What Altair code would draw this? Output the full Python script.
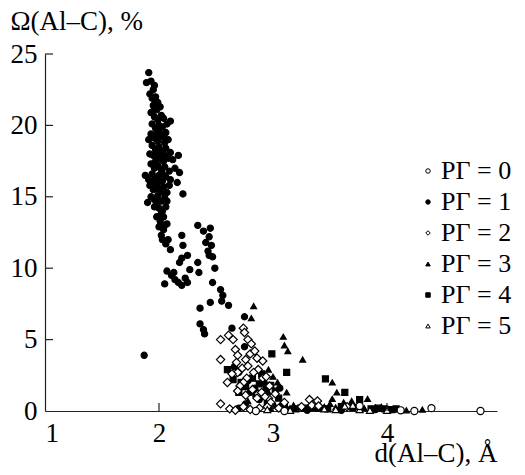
import altair as alt
import pandas as pd

labels = ["РГ = 0", "РГ = 1", "РГ = 2", "РГ = 3", "РГ = 4", "РГ = 5"]
shapes = ["circle", "circle", "diamond", "triangle-up", "square", "triangle-up"]
fills = ["white", "black", "white", "black", "black", "white"]
strokes = ["black"] * 6
sizes = [50, 38, 68, 34, 36, 48]

x_ticks = [1, 2, 3, 4]
y_ticks = [0, 5, 10, 15, 20, 25]
x_inner_ticks = [2, 3, 4]
y_inner_ticks = [5, 10, 15, 20, 25]

# (d, Omega) pairs
rg1 = [
    (1.91, 23.7), (1.89, 23.0), (1.93, 23.1), (1.96, 22.8), (1.95, 22.5), (1.92, 22.2),
    (1.94, 21.9), (1.97, 22.0), (1.99, 21.6), (1.97, 21.7), (1.95, 21.4), (1.98, 21.1),
    (2.01, 21.3), (1.95, 21.0), (1.93, 20.9), (1.96, 20.6), (1.99, 20.4), (2.02, 20.7),
    (2.04, 20.5), (2.10, 20.3), (2.07, 20.1), (2.00, 20.0), (1.94, 20.1), (1.97, 19.8),
    (2.00, 19.6), (2.03, 19.9), (2.06, 19.5), (1.98, 19.4), (2.04, 19.3), (1.93, 19.4),
    (1.91, 19.0), (1.96, 19.1), (1.99, 18.9), (2.02, 19.2), (2.05, 18.8), (2.08, 19.0),
    (1.94, 18.6), (1.97, 18.3), (2.00, 18.5), (2.03, 18.2), (2.06, 18.4), (2.10, 18.1),
    (1.99, 18.1), (1.92, 18.0), (1.95, 17.9), (1.98, 17.6), (2.01, 17.8), (2.04, 17.5),
    (2.05, 17.9), (2.08, 17.7), (2.12, 17.6), (2.17, 17.9), (1.97, 17.5), (1.93, 17.3),
    (1.96, 17.0), (1.99, 17.2), (2.02, 16.9), (2.05, 17.1), (2.09, 16.8), (2.14, 17.0),
    (2.18, 16.7), (2.03, 16.6), (1.88, 16.5), (1.91, 16.2), (1.94, 16.6), (1.97, 16.3),
    (2.00, 16.5), (2.03, 16.1), (2.06, 16.4), (2.10, 16.2), (2.16, 16.0), (1.99, 16.0),
    (1.95, 16.1), (1.92, 15.8), (1.95, 15.5), (1.98, 15.8), (2.01, 15.4), (2.04, 15.7),
    (2.07, 15.3), (2.09, 15.8), (2.00, 15.5), (2.05, 15.2), (2.21, 15.2), (1.93, 15.0),
    (1.96, 14.8), (1.99, 15.1), (2.02, 14.7), (2.05, 14.9), (2.07, 14.7), (1.90, 14.6),
    (1.98, 14.5), (1.96, 14.3), (2.00, 14.2), (2.03, 14.0), (2.06, 14.3), (2.02, 13.8),
    (1.98, 13.6), (2.01, 13.3), (2.04, 13.6), (2.07, 13.1), (2.05, 13.0), (2.00, 12.9),
    (2.04, 12.7), (2.03, 12.0), (2.08, 12.0), (2.02, 12.3), (2.06, 11.7), (2.10, 11.3),
    (2.20, 12.3), (2.21, 11.6), (2.34, 13.0), (2.39, 12.6), (2.45, 12.8), (2.44, 12.2),
    (2.41, 11.8), (2.46, 11.6), (2.43, 11.2), (2.44, 10.9), (2.47, 10.8), (2.20, 10.7),
    (2.25, 10.9), (2.18, 10.4), (2.34, 10.4), (2.27, 9.9), (2.35, 9.7), (2.49, 10.0),
    (2.07, 9.8), (2.11, 9.5), (2.14, 9.2), (2.17, 9.0), (2.20, 8.8), (2.23, 9.3),
    (2.13, 9.7), (2.05, 8.9), (2.25, 9.0), (2.47, 9.0), (2.54, 8.5), (2.56, 8.1),
    (2.55, 7.7), (2.61, 7.4), (2.45, 7.6), (2.36, 7.2), (2.36, 6.1), (2.39, 5.7),
    (2.40, 5.4), (2.75, 6.6), (2.64, 5.8), (2.75, 4.5), (1.87, 3.9),
    (2.66, 3.1), (2.70, 2.7), (2.78, 2.1), (2.84, 1.6), (2.92, 2.0), (2.95, 1.2),
    (2.88, 0.8), (2.76, 0.5), (2.70, 0.2), (3.00, 0.4), (3.06, 1.6), (3.08, 0.2),
    (3.15, 0.1), (3.30, 0.05), (3.60, 0.05), (3.90, 0.1), (2.80, 1.3),
]
rg2 = [
    (2.74, 5.8), (2.75, 5.5), (2.54, 5.0), (2.61, 5.3), (2.65, 5.0), (2.78, 5.0),
    (2.81, 4.7), (2.67, 4.3), (2.54, 3.6), (2.68, 3.4), (2.80, 4.0), (2.84, 4.2),
    (2.86, 3.7), (2.91, 3.5), (2.76, 3.6), (2.73, 3.0), (2.78, 3.15), (2.87, 2.9),
    (2.60, 2.0), (2.77, 2.3), (2.83, 2.7), (2.91, 2.3), (2.69, 2.7), (2.74, 2.0),
    (2.71, 1.75), (2.82, 1.5), (2.69, 1.4), (2.87, 1.2), (2.96, 0.9), (2.90, 1.3),
    (2.97, 1.75), (2.54, 0.5), (2.62, 0.15), (2.67, 0.05), (3.32, 0.8), (3.39, 0.7),
    (3.34, 0.4), (3.40, 0.35), (3.65, 0.3), (2.94, 2.4), (2.93, 1.0), (2.98, 0.6),
    (2.86, 0.9), (2.76, 1.1), (2.95, 0.3), (2.88, 0.2), (2.80, 0.1), (2.74, 0.3),
    (3.05, 0.2), (3.02, 1.2), (3.10, 0.6), (3.25, 0.3), (2.69, 3.9), (2.64, 2.6),
]
rg3 = [
    (2.83, 7.35), (2.81, 6.5), (3.09, 5.2), (3.10, 4.6), (3.13, 4.2), (3.26, 3.6),
    (3.52, 2.0), (3.56, 1.3), (3.12, 1.3), (3.04, 2.0), (2.78, 0.7), (3.52, 0.85),
    (3.69, 0.7), (3.83, 0.85), (3.00, 2.4), (2.96, 2.9), (3.07, 0.5), (3.15, 0.2),
    (3.22, 0.25), (3.30, 0.15), (3.45, 0.3), (3.50, 0.5), (3.58, 0.2), (3.62, 0.6),
    (3.75, 0.3), (3.80, 0.2), (3.90, 0.25), (4.05, 0.1), (4.17, 0.05), (4.31, 0.1),
    (3.95, 0.3), (3.35, 0.2), (2.98, 0.15), (3.18, 0.4), (3.55, 0.25),
]
rg4 = [
    (2.99, 4.0), (3.12, 2.7), (3.46, 2.25), (3.63, 1.3), (3.76, 0.8), (2.60, 2.9),
    (2.65, 2.2), (2.72, 2.0), (2.76, 1.7), (2.82, 2.3), (2.88, 1.9), (2.94, 1.5),
    (2.98, 1.8), (3.02, 1.4), (2.90, 2.6), (2.85, 1.2), (2.70, 1.3), (3.05, 0.9),
    (2.95, 0.6), (3.10, 0.3), (3.20, 0.15), (3.40, 0.2), (3.60, 0.3), (3.70, 0.25),
    (3.86, 0.15), (3.92, 0.2), (3.98, 0.15), (4.04, 0.1), (4.08, 0.15), (3.28, 0.2),
    (3.48, 0.15),
]
rg5 = [
    (3.63, 0.35), (3.76, 0.1), (3.70, 0.4), (3.45, 0.15), (3.85, 0.05), (2.95, 0.1),
    (3.15, 0.05), (3.55, 0.1), (4.00, 0.05),
]
rg0 = [
    (4.24, 0.0), (4.39, 0.2), (4.82, 0.0), (3.76, 0.35), (4.12, 0.05), (3.10, 0.0),
    (2.85, 0.0),
]

group_points = {0: rg0, 1: rg1, 2: rg2, 3: rg3, 4: rg4, 5: rg5}
draw_order = [1, 4, 3, 2, 5, 0]
records = []
for g in draw_order:
    for d, om in group_points[g]:
        records.append({"d": d, "omega": om, "rg": labels[g]})
df = pd.DataFrame(records)

FONT = "Liberation Serif"
FS = 27
INK = "#231f20"

xscale = alt.Scale(domain=[1, 4.965], nice=False, zero=False)
yscale = alt.Scale(domain=[0, 25], nice=False, zero=True)
xaxis = alt.Axis(
    values=x_ticks, format="d", tickSize=0, labelPadding=9, grid=False,
    title="d(Al–C), Å", titleX=452, titleY=50, titleAlign="right",
    titleBaseline="alphabetic")
yaxis = alt.Axis(
    values=y_ticks, format="d", tickSize=0, labelPadding=8, grid=False,
    title="Ω(Al–C), %", titleAngle=0, titleX=-35, titleY=-25,
    titleAlign="left", titleBaseline="alphabetic")
legend = alt.Legend(
    title=None, orient="none", legendX=370, legendY=104, padding=0,
    labelFont=FONT, labelFontSize=26, labelColor="black", labelOffset=0,
    symbolSize=20, symbolStrokeColor="black", symbolStrokeWidth=1,
    rowPadding=5,
)

base = alt.Chart(df)
layers = []
for g in draw_order:
    layers.append(
        base.transform_filter(alt.datum.rg == labels[g]).mark_point(
            filled=False, color="black", strokeWidth=1.2,
            opacity=1, size=sizes[g],
        ).encode(
            x=alt.X("d:Q", scale=xscale, axis=xaxis),
            y=alt.Y("omega:Q", scale=yscale, axis=yaxis),
            shape=alt.Shape("rg:N", scale=alt.Scale(domain=labels, range=shapes),
                            legend=legend),
            fill=alt.Fill("rg:N", scale=alt.Scale(domain=labels, range=fills),
                          legend=legend),
            stroke=alt.Stroke("rg:N", scale=alt.Scale(domain=labels, range=strokes),
                              legend=legend),
        )
    )

xt = alt.Chart(pd.DataFrame({"d": x_inner_ticks})).mark_rule(
    color=INK, strokeWidth=1.2
).encode(
    x=alt.X("d:Q", scale=xscale, axis=xaxis),
    y=alt.datum(0), y2=alt.datum(0.56),
)

yt = alt.Chart(pd.DataFrame({"omega": y_inner_ticks})).mark_rule(
    color=INK, strokeWidth=1.2
).encode(
    y=alt.Y("omega:Q", scale=yscale, axis=yaxis),
    x=alt.datum(1), x2=alt.datum(1.07),
)

chart = alt.layer(*layers, xt, yt).properties(
    width=452, height=357,
    padding={"left": 37, "top": 46, "right": 20, "bottom": 56},
    autosize=alt.AutoSizeParams(type="none"),
    background="white",
).configure_view(stroke=None).configure_axis(
    labelFont=FONT, labelFontSize=FS, labelColor="black",
    titleFont=FONT, titleFontSize=FS, titleFontWeight="normal", titleColor="black",
    domainColor=INK, domainWidth=1.2,
)

chart.save("out.html", embed_options={"renderer": "svg", "actions": False})
